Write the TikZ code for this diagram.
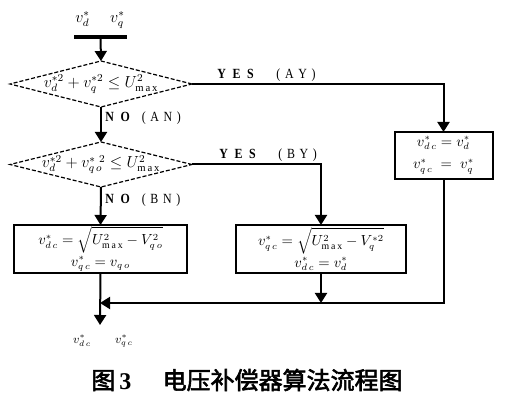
\documentclass[tikz,border=0pt]{standalone}
\usepackage{fontspec}
\usepackage{amsmath}
\setmainfont{Liberation Serif}
\newfontfamily\cjk[AutoFakeBold=2.5]{Noto Sans CJK SC}
\newfontfamily\lblfont[FakeStretch=0.85]{Liberation Serif}
\usetikzlibrary{arrows.meta,shapes.geometric}
\tikzset{
  conn/.style={line width=1.5pt,-{Triangle[width=9pt,length=7.5pt]}},
  dia/.style={draw,dashed,dash pattern=on 3pt off 1.5pt,line width=0.9pt,shape=diamond,inner sep=0pt,outer sep=0pt},
  box/.style={draw,line width=1.5pt,rectangle,inner sep=0pt,outer sep=0pt},
  eq/.style={font=\fontsize{12}{14}\selectfont,inner sep=0pt},
  beq/.style={font=\fontsize{10.5}{15}\selectfont,inner sep=0pt,align=center},
  lbl/.style={font=\lblfont\fontsize{10.5}{12}\selectfont,inner sep=0pt}
}
\newcommand{\lsp}{\hspace{5pt}}
\newcommand{\tsp}{\hspace{3.5pt}}
\newcommand{\rt}{\rule{0pt}{10.5pt}}
\begin{document}
\begin{tikzpicture}[x=0.75pt,y=-0.75pt]
\useasboundingbox (0,0) rectangle (526,413);
% input
\node[eq] (vin) at (100,20) {$v_d^{*}\quad\; v_q^{*}$};
\node[fill,inner sep=0pt,minimum width=39.75pt,minimum height=2.6pt] (bar) at (100.5,37) {};
% decisions
\node[dia,minimum width=136.5pt,minimum height=34.5pt] (d1) at (101,84) {};
\node[eq] (t1) at (d1) {$v_d^{*2}+v_q^{*2}\le U^{2}_{\mathrm{m\,a\,x}}$};
\node[dia,minimum width=136.5pt,minimum height=33.75pt] (d2) at (101,164.5) {};
\node[eq] (t2) at (d2) {$v_d^{*2}+v_{q\,o}^{*\ 2}\le U^{2}_{\mathrm{m\,a\,x}}$};
% boxes
\node[box,minimum width=129.75pt,minimum height=36pt] (b1) at (100.5,249) {};
\node[beq] (t3) at (b1) {$v^{*}_{d\,c}=\sqrt{\rt U^{2}_{\mathrm{m\,a\,x}}-V^{2}_{q\,o}}$\\[1pt]$v^{*}_{q\,c}=v_{q\,o}$};
\node[box,minimum width=127.5pt,minimum height=36pt] (b2) at (321,249) {};
\node[beq] (t4) at (b2) {$v^{*}_{q\,c}=\sqrt{\rt U^{2}_{\mathrm{m\,a\,x}}-V^{*2}_{q}}$\\[1pt]$v^{*}_{d\,c}=v^{*}_{d}$};
\node[box,minimum width=73.5pt,minimum height=35.25pt] (b3) at (443.5,155.5) {};
\node[beq] (t5) at (b3) {$v^{*}_{d\,c}=v^{*}_{d}$\\[2pt]$v^{*}_{q\,c}\;=\;v^{*}_{q}$};
% junctions
\coordinate (j) at (321,303);
\coordinate (k) at (100,303);
\coordinate (out) at (100,325);
% connectors
\draw[conn] (bar) -- (d1.north);
\draw[conn] (d1.south) -- (d2.north);
\draw[conn] (d2.south) -- (b1.north);
\draw[conn] (d1.east) -| (b3.north);
\draw[conn] (d2.east) -| (b2.north);
\draw[conn] (b2.south) -- (j);
\draw[conn] (b3.south) |- (k);
\draw[conn] (b1.south) -- (out);
% labels
\node[lbl,anchor=west] (ay) at (217,75) {\textbf{Y\lsp E\lsp S}\hspace{17pt}(\tsp A\tsp Y\tsp)};
\node[lbl,anchor=west] (by) at (219,155) {\textbf{Y\lsp E\lsp S}\hspace{17pt}(\tsp B\tsp Y\tsp)};
\node[lbl,anchor=west] (an) at (105,118) {\textbf{N\lsp O}\hspace{9pt}(\tsp A\tsp N\tsp)};
\node[lbl,anchor=west] (bn) at (105,200) {\textbf{N\lsp O}\hspace{9pt}(\tsp B\tsp N\tsp)};
% outputs
\node[font=\fontsize{9}{10}\selectfont,inner sep=0pt] (vout) at (103,341) {$v^{*}_{d\,c}\qquad v^{*}_{q\,c}$};
% caption
\node[inner sep=0pt,font=\fontsize{18}{20}\selectfont] (cap) at (247,380) {\cjk\bfseries 图\,\textrm{\bfseries 3}\hspace{1.3em}电压补偿器算法流程图};
\end{tikzpicture}
\end{document}
